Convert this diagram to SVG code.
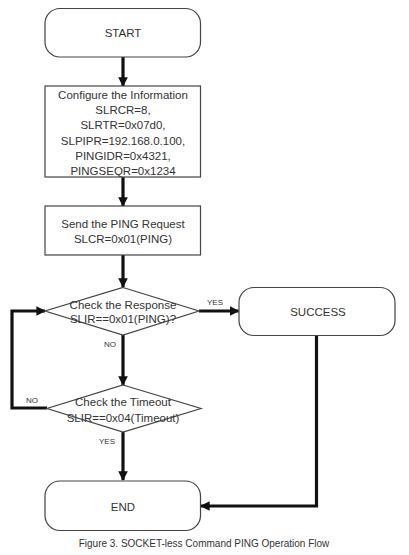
<svg xmlns="http://www.w3.org/2000/svg" width="409" height="555" viewBox="0 0 409 555">
<defs>
<marker id="ah" viewBox="0 0 10 10" refX="9" refY="5" markerWidth="3" markerHeight="3" orient="auto" markerUnits="strokeWidth">
<path d="M0,0 L10,5 L0,10 z" fill="#111"/>
</marker>
<style>
.shape{fill:#fff;stroke:#444;stroke-width:1.2}
.t{font-family:"Liberation Sans",Arial,sans-serif;font-size:11.5px;fill:#333;text-anchor:middle;dominant-baseline:central}
.lbl{font-family:"Liberation Sans",Arial,sans-serif;font-size:8px;fill:#333;text-anchor:middle;dominant-baseline:central}
.cap{font-family:"Liberation Sans",Arial,sans-serif;font-size:10px;fill:#333;text-anchor:middle;dominant-baseline:central}
.c{fill:none;stroke:#111;stroke-width:3.2;marker-end:url(#ah)}
.cn{fill:none;stroke:#111;stroke-width:3.2}
</style>
</defs>
<rect width="409" height="555" fill="#fff"/>
<g id="connectors">
<path class="c" d="M123,57 V86"/>
<path class="c" d="M123,177 V206"/>
<path class="c" d="M123,255 V287"/>
<path class="c" d="M199,311 H238.5"/>
<path class="c" d="M123,335 V385"/>
<path class="c" d="M47,408 H12 V311 H45"/>
<path class="c" d="M123,432 V480"/>
<path class="c" d="M316.5,335.5 V506 H201"/>
<text class="lbl" x="215" y="302.5">YES</text>
<text class="lbl" x="110" y="344">NO</text>
<text class="lbl" x="32" y="400.5">NO</text>
<text class="lbl" x="107" y="441.5">YES</text>
</g>
<g id="start">
<rect class="shape" x="45" y="8.5" width="155.5" height="48.5" rx="15"/>
<text class="t" x="123" y="33">START</text>
</g>
<g id="configure">
<rect class="shape" x="45" y="86" width="155.5" height="91"/>
<text class="t" x="123" y="94.5">Configure the Information</text>
<text class="t" x="123" y="109.5">SLRCR=8,</text>
<text class="t" x="123" y="125">SLRTR=0x07d0,</text>
<text class="t" x="123" y="140.5">SLPIPR=192.168.0.100,</text>
<text class="t" x="123" y="155.5">PINGIDR=0x4321,</text>
<text class="t" x="123" y="170.5">PINGSEQR=0x1234</text>
</g>
<g id="send">
<rect class="shape" x="45" y="206" width="155.5" height="49"/>
<text class="t" x="123" y="223.5">Send the PING Request</text>
<text class="t" x="123" y="239">SLCR=0x01(PING)</text>
</g>
<g id="check-response">
<polygon class="shape" points="123,287.5 199,311 123,335 45,311"/>
<text class="t" x="123" y="305">Check the Response</text>
<text class="t" x="123" y="318.5">SLIR==0x01(PING)?</text>
</g>
<g id="success">
<rect class="shape" x="239" y="287.5" width="156" height="48" rx="15"/>
<text class="t" x="318" y="311.5">SUCCESS</text>
</g>
<g id="check-timeout">
<polygon class="shape" points="123,385 201,408.5 123,432 47,408.5"/>
<text class="t" x="123" y="401.5">Check the Timeout</text>
<text class="t" x="123" y="417.5">SLIR==0x04(Timeout)</text>
</g>
<g id="end">
<rect class="shape" x="45" y="481" width="155.5" height="49.5" rx="15"/>
<text class="t" x="123" y="506.5">END</text>
</g>
<text class="cap" x="204" y="543.5">Figure 3. SOCKET-less Command PING Operation Flow</text>
</svg>
